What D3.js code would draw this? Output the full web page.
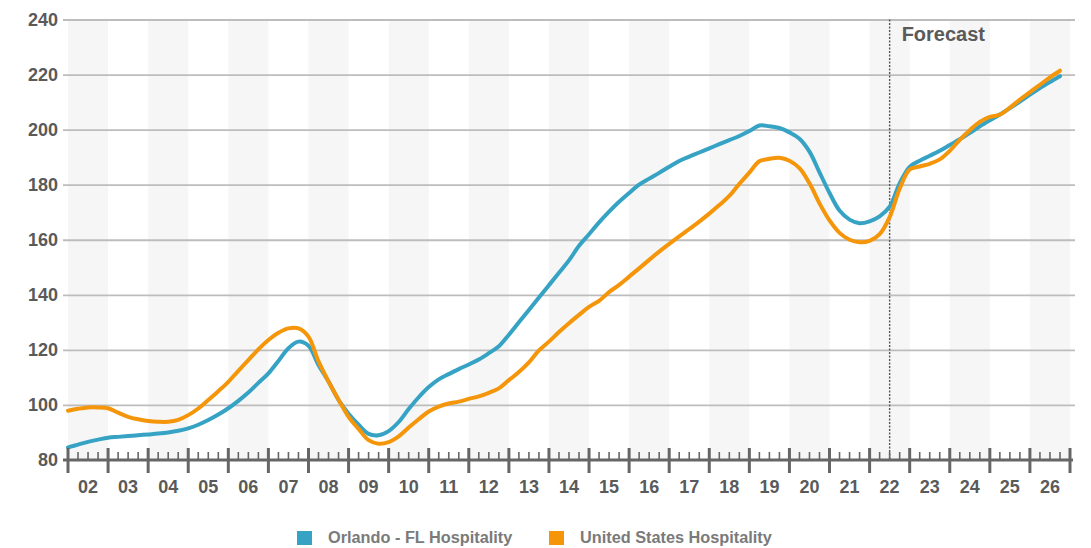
<!DOCTYPE html>
<html>
<head>
<meta charset="utf-8">
<script src="https://cdn.jsdelivr.net/npm/d3@7"></script>
<style>
  html, body { margin: 0; padding: 0; background: #ffffff; }
  svg { display: block; font-family: "Liberation Sans", Arial, Helvetica, sans-serif; }
</style>
</head>
<body>
<svg id="chart" width="1091" height="548"></svg>
<script>
// Year labels on the x axis (one band per year, 2002-2026)
const years = ["02","03","04","05","06","07","08","09","10","11","12","13","14",
               "15","16","17","18","19","20","21","22","23","24","25","26"];
const firstYear = 2002;

// Y axis ticks
const yTicks = [80, 100, 120, 140, 160, 180, 200, 220, 240];

// Quarterly index values, 2002 Q1 - 2026 Q4
const orlando = [
  84.6, 85.6, 86.6, 87.4,   88.1, 88.4, 88.7, 89.0,   89.3, 89.6, 90.0, 90.6,
  91.5, 92.8, 94.5, 96.5,   98.8, 101.5, 104.5, 108.0, 111.5, 116.0, 120.6, 123.0,
  121.5, 114.5, 108.5, 101.8, 96.8, 92.8, 89.5, 89.0,  90.5, 93.8, 98.5, 102.8,
  106.5, 109.3, 111.2, 113.0, 114.7, 116.5, 118.8, 121.3, 125.5, 130.0, 134.5, 139.0,
  143.5, 148.0, 152.5, 157.8, 162.0, 166.3, 170.2, 173.8, 177.0, 180.0, 182.2, 184.3,
  186.5, 188.6, 190.2, 191.7, 193.2, 194.7, 196.2, 197.7, 199.5, 201.5, 201.2, 200.6,
  199.0, 196.7, 192.0, 184.5, 177.0, 170.6, 167.3, 166.0, 166.7, 168.5, 172.0, 180.5,
  186.5, 188.7, 190.5, 192.3, 194.4, 196.5, 198.8, 201.2, 203.4, 205.5, 207.8, 210.2,
  212.7, 215.1, 217.3, 219.4
];
const unitedStates = [
  97.9, 98.6, 99.1, 99.1,   98.8, 97.2, 95.7, 94.8,   94.2, 93.9, 93.9, 94.6,
  96.3, 98.7, 101.8, 105.0, 108.4, 112.4, 116.3, 120.2, 123.6, 126.2, 127.8, 127.8,
  124.8, 115.8, 108.5, 101.9, 95.7, 91.3, 87.2, 85.9,   86.5, 88.6, 91.8, 94.8,
  97.6, 99.4, 100.5, 101.2, 102.2, 103.1, 104.4, 106.0, 109.0, 112.0, 115.5, 119.8,
  123.0, 126.5, 129.7, 132.7, 135.6, 137.8, 141.0, 143.6, 146.6, 149.6, 152.7, 155.7,
  158.5, 161.2, 163.9, 166.6, 169.5, 172.6, 175.9, 180.3, 184.4, 188.5, 189.4, 189.8,
  188.7, 186.0, 180.5, 173.2, 167.0, 162.5, 160.0, 159.1, 159.6, 162.0, 168.2, 178.5,
  185.5, 186.6, 187.6, 189.2, 192.3, 196.3, 199.8, 202.8, 204.6, 205.4, 208.0, 210.9,
  213.6, 216.3, 219.0, 221.4
];

const seriesNames = ["Orlando - FL Hospitality", "United States Hospitality"];
const seriesColors = ["#36a3c5", "#f5960a"];
const forecastStart = 2022.5;

const svg = d3.select("#chart");

const x = d3.scaleLinear().domain([firstYear, firstYear + years.length]).range([68, 1070]);
const y = d3.scaleLinear().domain([80, 240]).range([460, 19.5]);
const gridLeft = 63, gridRight = 1075;

// Alternating year bands
svg.append("g").selectAll("rect")
  .data(years.filter((d, i) => i % 2 === 0))
  .join("rect")
  .attr("x", d => x(firstYear + years.indexOf(d)))
  .attr("width", d => x(firstYear + years.indexOf(d) + 1) - x(firstYear + years.indexOf(d)))
  .attr("y", y(240))
  .attr("height", y(80) - y(240))
  .attr("fill", "#f6f6f6");

// Y axis with horizontal gridlines
const yAxis = svg.append("g")
  .attr("transform", `translate(${gridLeft},0)`)
  .call(d3.axisLeft(y).tickValues(yTicks).tickSize(-(gridRight - gridLeft)).tickPadding(5));
yAxis.select(".domain").remove();
yAxis.selectAll(".tick line")
  .attr("stroke", "#bdbdbd").attr("stroke-width", 1.8)
  .filter(d => d === 80).remove();
yAxis.selectAll(".tick text")
  .attr("fill", "#5a5a5a").attr("font-size", 18).attr("font-weight", "bold")
  .attr("font-family", "'Liberation Sans', Arial, sans-serif");

// Forecast divider
svg.append("line")
  .attr("x1", x(forecastStart)).attr("x2", x(forecastStart))
  .attr("y1", y(240)).attr("y2", y(80))
  .attr("stroke", "#555").attr("stroke-width", 1.4).attr("stroke-dasharray", "2,1.5");
svg.append("text")
  .attr("x", x(forecastStart) + 12).attr("y", 41)
  .attr("fill", "#5a5a5a").attr("font-size", 20).attr("font-weight", "bold")
  .text("Forecast");

// Series lines
const line = d3.line()
  .x((d, i) => x(firstYear + i / 4))
  .y(d => y(d))
  .curve(d3.curveCatmullRom.alpha(0.5));

[orlando, unitedStates].forEach((values, k) => {
  svg.append("path")
    .datum(values)
    .attr("d", line)
    .attr("fill", "none")
    .attr("stroke", seriesColors[k])
    .attr("stroke-width", 4)
    .attr("stroke-linejoin", "round")
    .attr("stroke-linecap", "round");
});

// X axis: baseline, year ticks, quarter ticks, labels
const xAxis = svg.append("g");
xAxis.append("line")
  .attr("x1", gridLeft).attr("x2", x(firstYear + years.length) + 3)
  .attr("y1", y(80)).attr("y2", y(80))
  .attr("stroke", "#666").attr("stroke-width", 3);

const yearEdges = d3.range(years.length + 1).map(i => firstYear + i);
xAxis.selectAll(".major")
  .data(yearEdges)
  .join("line")
  .attr("class", "major")
  .attr("x1", d => x(d)).attr("x2", d => x(d))
  .attr("y1", y(80) - 12).attr("y2", y(80) + 13)
  .attr("stroke", "#666").attr("stroke-width", 3);

const quarterTicks = d3.range(years.length).flatMap(i => [0.25, 0.5, 0.75].map(q => firstYear + i + q));
xAxis.selectAll(".minor")
  .data(quarterTicks)
  .join("line")
  .attr("class", "minor")
  .attr("x1", d => x(d)).attr("x2", d => x(d))
  .attr("y1", y(80) - 8).attr("y2", y(80))
  .attr("stroke", "#666").attr("stroke-width", 1.6);

xAxis.selectAll(".label")
  .data(years)
  .join("text")
  .attr("class", "label")
  .attr("x", (d, i) => x(firstYear + i + 0.5))
  .attr("y", 493)
  .attr("text-anchor", "middle")
  .attr("fill", "#5a5a5a").attr("font-size", 18).attr("font-weight", "bold")
  .text(d => d);

// Legend
const legendX = [297, 549];
const legend = svg.append("g").selectAll("g")
  .data(seriesNames)
  .join("g")
  .attr("transform", (d, i) => `translate(${legendX[i]},531)`);
legend.append("rect")
  .attr("width", 15).attr("height", 14)
  .attr("fill", (d, i) => seriesColors[i]);
legend.append("text")
  .attr("x", 31).attr("y", 12)
  .attr("fill", "#7a7a7a").attr("font-size", 16.3).attr("font-weight", "bold")
  .text(d => d);
</script>
</body>
</html>
